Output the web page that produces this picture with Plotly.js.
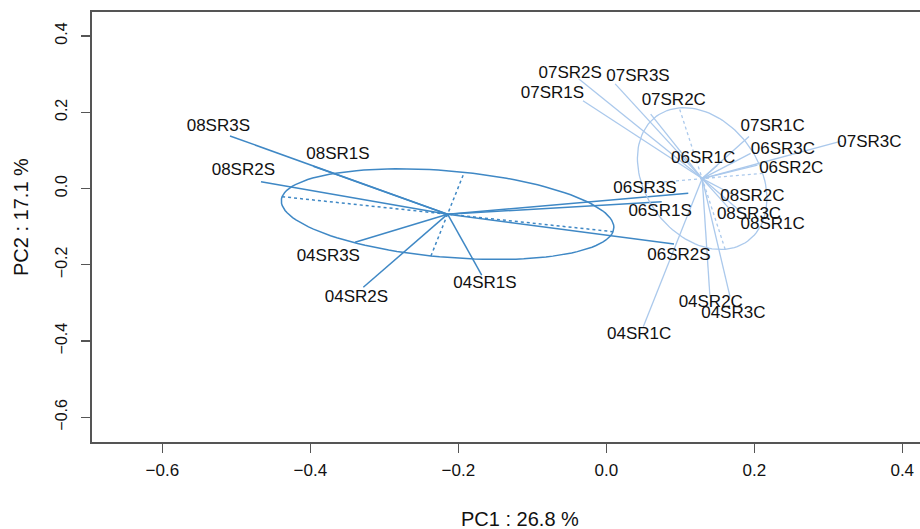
<!DOCTYPE html>
<html>
<head>
<meta charset="utf-8">
<script src="https://cdn.plot.ly/plotly-3.0.1.min.js"></script>
<style>
html, body { margin: 0; padding: 0; overflow: hidden; background: #ffffff; }
#chart { width: 920px; height: 529px; }
</style>
</head>
<body>
<div id="chart"></div>
<script>
// ---- data ----
const sampleNames = [
  "08SR3S", "08SR2S", "08SR1S", "04SR3S", "04SR2S", "04SR1S", "06SR3S", "06SR1S", "06SR2S",
  "07SR1S", "07SR2S", "07SR3S", "07SR2C", "07SR1C", "07SR3C", "06SR3C", "06SR2C", "06SR1C",
  "08SR2C", "08SR3C", "08SR1C", "04SR1C", "04SR2C", "04SR3C"
];
const pc1 = [
  -0.5086, -0.4667, -0.3960, -0.3396, -0.3284, -0.1684, 0.1108, 0.0749, 0.0915,
  -0.0315, -0.0374, 0.0120, 0.0600, 0.1929, 0.3164, 0.1951, 0.2043, 0.1500,
  0.1700, 0.1650, 0.1900, 0.0500, 0.1401, 0.1672
];
const pc2 = [
  0.1378, 0.0178, 0.0585, -0.1411, -0.2591, -0.2269, -0.0126, -0.0346, -0.1456,
  0.2300, 0.2877, 0.2743, 0.1950, 0.1366, 0.1233, 0.0923, 0.0611, 0.0600,
  -0.0150, -0.0500, -0.0750, -0.3624, -0.2837, -0.2837
];
const groupOf = [
  0, 0, 0, 0, 0, 0, 0, 0, 0,
  1, 1, 1, 1, 1, 1, 1, 1, 1,
  1, 1, 1, 1, 1, 1
];
// where each sample label sits (data units)
const labelPc1 = [
  -0.5243, -0.4905, -0.3626, -0.3757, -0.3377, -0.1640, 0.0523, 0.0727, 0.0982,
  -0.0727, -0.0487, 0.0429, 0.0912, 0.2249, 0.3557, 0.2387, 0.2500, 0.1310,
  0.1975, 0.1929, 0.2249, 0.0445, 0.1412, 0.1717
];
const labelPc2 = [
  0.1620, 0.0459, 0.0879, -0.1790, -0.2864, -0.2505, 0.0005, -0.0608, -0.1770,
  0.2478, 0.3010, 0.2940, 0.2300, 0.1608, 0.1193, 0.1012, 0.0522, 0.0771,
  -0.0205, -0.0677, -0.0944, -0.3842, -0.2995, -0.3273
];
// group ellipses: semi-axes and orientation of the major axis (degrees)
const ellipseMajor = [0.2283, 0.1880];
const ellipseMinor = [0.1120, 0.0830];
const ellipseAngleDeg = [-11.6, 99.5];

const xTicks = [-0.6, -0.4, -0.2, 0.0, 0.2, 0.4];
const yTicks = [-0.6, -0.4, -0.2, 0.0, 0.2, 0.4];
const xTitle = "PC1 : 26.8 %";
const yTitle = "PC2 : 17.1 %";

// ---- styles ----
const groupColors = ["#3f88c5", "#abc9ec"];
const groupWidths = [1.5, 1.3];

const traces = [];
for (let g = 0; g < 2; g++) {
  const idx = [];
  for (let i = 0; i < sampleNames.length; i++) if (groupOf[i] === g) idx.push(i);
  const cx = idx.reduce((s, i) => s + pc1[i], 0) / idx.length;
  const cy = idx.reduce((s, i) => s + pc2[i], 0) / idx.length;

  // star lines centroid -> sample
  const sx = [], sy = [];
  idx.forEach(i => { sx.push(cx, pc1[i], null); sy.push(cy, pc2[i], null); });
  traces.push({ x: sx, y: sy, mode: "lines", type: "scatter", hoverinfo: "skip",
    line: { color: groupColors[g], width: groupWidths[g] }, showlegend: false });

  // ellipse
  const th = ellipseAngleDeg[g] * Math.PI / 180;
  const ux = Math.cos(th), uy = Math.sin(th);
  const vx = -Math.sin(th), vy = Math.cos(th);
  const a = ellipseMajor[g], b = ellipseMinor[g];
  const ex = [], ey = [];
  for (let k = 0; k <= 120; k++) {
    const t = 2 * Math.PI * k / 120;
    ex.push(cx + a * Math.cos(t) * ux + b * Math.sin(t) * vx);
    ey.push(cy + a * Math.cos(t) * uy + b * Math.sin(t) * vy);
  }
  traces.push({ x: ex, y: ey, mode: "lines", type: "scatter", hoverinfo: "skip",
    line: { color: groupColors[g], width: groupWidths[g] }, showlegend: false });

  // dashed ellipse axes
  traces.push({
    x: [cx - a * ux, cx + a * ux, null, cx - b * vx, cx + b * vx],
    y: [cy - a * uy, cy + a * uy, null, cy - b * vy, cy + b * vy],
    mode: "lines", type: "scatter", hoverinfo: "skip",
    line: { color: groupColors[g], width: groupWidths[g], dash: "3px,3px" }, showlegend: false });
}

// sample labels
traces.push({
  x: labelPc1, y: labelPc2, text: sampleNames, mode: "text", type: "scatter",
  textposition: "middle center",
  textfont: { family: "Liberation Sans, Arial, sans-serif", size: 17, color: "#111111" },
  showlegend: false, hoverinfo: "text"
});

const layout = {
  width: 920, height: 529,
  margin: { l: 92, r: 0, t: 12, b: 87 },
  paper_bgcolor: "#ffffff", plot_bgcolor: "#ffffff",
  font: { family: "Liberation Sans, Arial, sans-serif", color: "#111111" },
  showlegend: false,
  xaxis: {
    range: [-0.6951, 0.4240], tickvals: xTicks, tickformat: ".1f",
    ticks: "outside", ticklen: 9, tickwidth: 1.3, tickcolor: "#555555",
    ticklabelstandoff: 3,
    showline: true, linecolor: "#555555", linewidth: 1.6, mirror: true,
    showgrid: false, zeroline: false,
    tickfont: { size: 17, color: "#111111" }
  },
  yaxis: {
    range: [-0.6648, 0.4629], tickvals: yTicks, tickformat: ".1f",
    ticks: "outside", ticklen: 9, tickwidth: 1.3, tickcolor: "#555555",
    tickangle: -90, ticklabelstandoff: 8,
    showline: true, linecolor: "#555555", linewidth: 1.6, mirror: false,
    showgrid: false, zeroline: false,
    tickfont: { size: 16, color: "#111111" }
  },
  annotations: [
    { text: xTitle, xref: "paper", yref: "paper", x: (520 - 92) / 828, y: -(519 - 442) / 430,
      xanchor: "center", yanchor: "middle", showarrow: false,
      font: { size: 20, color: "#111111" } },
    { text: yTitle, xref: "paper", yref: "paper", x: -(92 - 21) / 828, y: (442 - 217) / 430,
      xanchor: "center", yanchor: "middle", showarrow: false, textangle: -90,
      font: { size: 20, color: "#111111" } }
  ]
};

Plotly.newPlot("chart", traces, layout, { displayModeBar: false, staticPlot: true });
</script>
</body>
</html>
